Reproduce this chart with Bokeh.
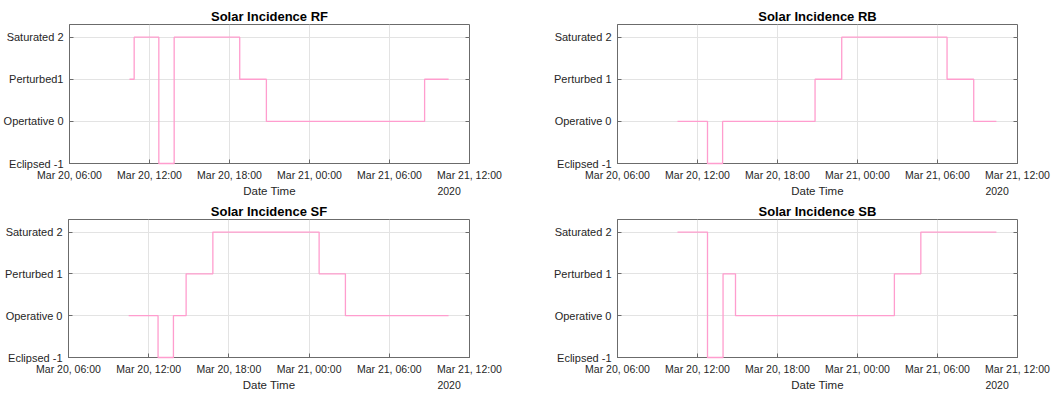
from datetime import datetime
from bokeh.plotting import figure
from bokeh.layouts import column, row
from bokeh.models import Range1d, FixedTicker, DatetimeTickFormatter, LinearAxis
from bokeh.embed import file_html
from bokeh.resources import INLINE

# ---- data ----
titles = ["Solar Incidence RF", "Solar Incidence RB", "Solar Incidence SF", "Solar Incidence SB"]

rf_times = ["2020-03-20 10:30", "2020-03-20 10:51", "2020-03-20 12:42", "2020-03-20 13:51",
            "2020-03-20 18:46", "2020-03-20 20:46", "2020-03-21 08:38", "2020-03-21 10:26"]
rf_vals = [1, 2, -1, 2, 1, 0, 1, 1]

rb_times = ["2020-03-20 10:30", "2020-03-20 12:45", "2020-03-20 13:53", "2020-03-20 20:49",
            "2020-03-20 22:49", "2020-03-21 06:43", "2020-03-21 08:43", "2020-03-21 10:25"]
rb_vals = [0, -1, 0, 1, 2, 1, 0, 0]

sf_times = ["2020-03-20 10:30", "2020-03-20 12:42", "2020-03-20 13:51", "2020-03-20 14:48",
            "2020-03-20 16:48", "2020-03-21 00:45", "2020-03-21 02:43", "2020-03-21 10:26"]
sf_vals = [0, -1, 0, 1, 2, 1, 0, 0]

sb_times = ["2020-03-20 10:30", "2020-03-20 12:45", "2020-03-20 13:55", "2020-03-20 14:51",
            "2020-03-21 02:46", "2020-03-21 04:45", "2020-03-21 10:25"]
sb_vals = [2, -1, 1, 0, 1, 2, 2]

y_ticks = [-1, 0, 1, 2]
y_labels_rf = ["Eclipsed -1", "Opertative 0", "Perturbed1", "Saturated 2"]
y_labels = ["Eclipsed -1", "Operative 0", "Perturbed 1", "Saturated 2"]

x_ticks = ["2020-03-20 06:00", "2020-03-20 12:00", "2020-03-20 18:00",
           "2020-03-21 00:00", "2020-03-21 06:00", "2020-03-21 12:00"]
x_start = "2020-03-20 06:00"
x_end = "2020-03-21 12:00"
last_tick_text = "Mar 21, 12:00"
year_text = "2020"
x_axis_label = "Date Time"

# ---- styling ----
FONT = "Liberation Sans"
LINE_COLOR = "#FF9DCE"
AXIS_COLOR = "#6b6b6b"
TEXT_COLOR = "#262626"
GRID_COLOR = "#e3e3e3"
YEAR_PAD = "\u00a0" * 14   # keeps the year line left-aligned under the last tick label


def parse(s):
    return datetime.strptime(s, "%Y-%m-%d %H:%M")


def to_ms(s):
    return (parse(s) - datetime(1970, 1, 1)).total_seconds() * 1000.0


def tick_only_axis(ticker):
    ax = LinearAxis(ticker=ticker)
    ax.axis_line_color = None
    ax.major_tick_line_color = AXIS_COLOR
    ax.major_tick_in = 4
    ax.major_tick_out = 0
    ax.minor_tick_line_color = None
    ax.major_label_text_font_size = "0px"
    ax.major_label_standoff = 0
    ax.major_label_text_alpha = 0
    return ax


def make_fig(title, times, vals, ylabs, width, height, left, right, top, bottom):
    p = figure(width=width, height=height, output_backend="svg", toolbar_location=None,
               x_axis_type="datetime",
               x_range=Range1d(parse(x_start), parse(x_end)),
               y_range=Range1d(-1, 2.3),
               min_border_left=left, min_border_right=right,
               min_border_top=top, min_border_bottom=bottom)
    p.title.text = title
    p.title.align = "center"
    p.title.text_font = FONT
    p.title.text_font_size = "13px"
    p.title.text_font_style = "bold"
    p.title.text_color = "#000000"
    p.title.standoff = 2
    p.title.offset = 0

    r = p.step([parse(t) for t in times], vals, mode="after", line_color=LINE_COLOR, line_width=1.3)
    r.level = "overlay"

    xt = FixedTicker(ticks=[to_ms(t) for t in x_ticks])
    p.xaxis.ticker = xt
    p.xgrid.ticker = xt
    p.xaxis.formatter = DatetimeTickFormatter(hours="%b %d, %H:%M", days="%b %d, %H:%M",
                                              hourmin="%b %d, %H:%M")
    p.xaxis.major_label_overrides = {to_ms(x_end): last_tick_text + "\n" + year_text + YEAR_PAD}
    yt = FixedTicker(ticks=y_ticks)
    p.yaxis.ticker = yt
    p.ygrid.ticker = yt
    p.yaxis.major_label_overrides = {t: l for t, l in zip(y_ticks, ylabs)}

    for ax in (p.xaxis[0], p.yaxis[0]):
        ax.axis_line_color = AXIS_COLOR
        ax.major_tick_line_color = AXIS_COLOR
        ax.major_tick_in = 4
        ax.major_tick_out = 0
        ax.minor_tick_line_color = None
        ax.major_label_text_font = FONT
        ax.major_label_text_font_size = "10.5px"
        ax.major_label_text_color = TEXT_COLOR
        ax.major_label_standoff = 5
    p.xaxis.major_label_text_line_height = 1.4
    p.yaxis.major_label_text_font_size = "11px"
    p.yaxis.major_label_standoff = 6
    p.xaxis.axis_label = x_axis_label
    p.xaxis.axis_label_text_font = FONT
    p.xaxis.axis_label_text_font_size = "11.5px"
    p.xaxis.axis_label_text_font_style = "normal"
    p.xaxis.axis_label_text_color = TEXT_COLOR
    p.xaxis.axis_label_standoff = -15

    p.add_layout(tick_only_axis(yt), "right")

    p.xgrid.grid_line_color = GRID_COLOR
    p.ygrid.grid_line_color = GRID_COLOR
    p.outline_line_color = AXIS_COLOR
    p.outline_line_alpha = 1.0
    return p


p1 = make_fig(titles[0], rf_times, rf_vals, y_labels_rf, 549, 200, 68, 80, 24, 36)
p2 = make_fig(titles[1], rb_times, rb_vals, y_labels, 505, 200, 68, 37, 24, 36)
p3 = make_fig(titles[2], sf_times, sf_vals, y_labels, 549, 194, 68, 80, 18, 36)
p4 = make_fig(titles[3], sb_times, sb_vals, y_labels, 505, 194, 68, 37, 18, 36)

layout = column(row(p1, p2), row(p3, p4))
open("out.html", "w").write(file_html(layout, INLINE))
